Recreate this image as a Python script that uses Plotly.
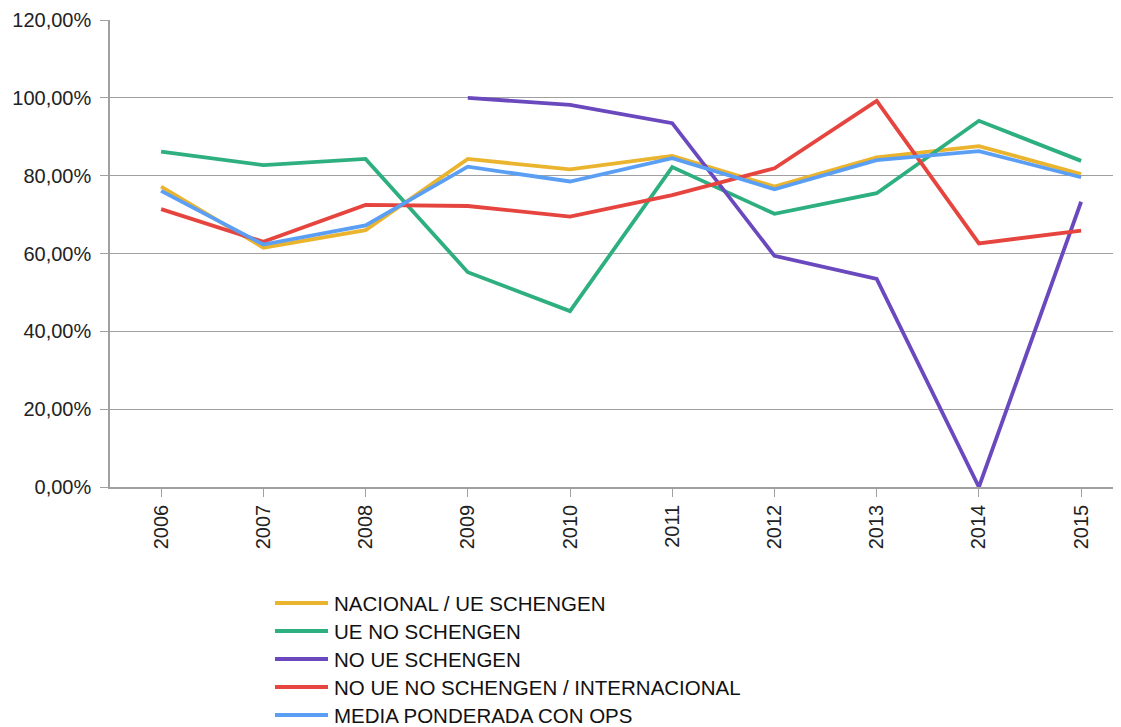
import plotly.graph_objects as go

years = ["2006", "2007", "2008", "2009", "2010", "2011", "2012", "2013", "2014", "2015"]
nacional_ue_schengen = [77.2, 61.5, 66.0, 84.3, 81.6, 85.1, 77.2, 84.7, 87.6, 80.4]
ue_no_schengen = [86.2, 82.7, 84.3, 55.2, 45.2, 82.2, 70.2, 75.5, 94.1, 83.8]
no_ue_schengen = [None, None, None, 100.0, 98.2, 93.5, 59.4, 53.5, 0.0, 73.3]
no_ue_no_schengen_int = [71.4, 63.0, 72.5, 72.2, 69.5, 75.0, 81.9, 99.2, 62.6, 65.9]
media_ponderada = [76.1, 62.3, 67.2, 82.3, 78.5, 84.5, 76.5, 84.0, 86.3, 79.6]
y_ticks = [0, 20, 40, 60, 80, 100, 120]
y_tick_labels = ["0,00%", "20,00%", "40,00%", "60,00%", "80,00%", "100,00%", "120,00%"]

series = [
    ("NACIONAL / UE SCHENGEN", nacional_ue_schengen, "#EAB42E"),
    ("UE NO SCHENGEN", ue_no_schengen, "#2DAF80"),
    ("NO UE SCHENGEN", no_ue_schengen, "#6A48BE"),
    ("NO UE NO SCHENGEN / INTERNACIONAL", no_ue_no_schengen_int, "#E6453F"),
    ("MEDIA PONDERADA CON OPS", media_ponderada, "#5B9FF5"),
]

# figure geometry (page body adds an 8px offset)
W, H = 1113, 719
L, T, PH = 102, 12, 467
B = H - T - PH
PW = W - L


def px_to_paper_x(fx):
    return (fx - L) / PW


def px_to_paper_y(fy):
    return (T + PH - fy) / PH


fig = go.Figure()
for i, (name, vals, color) in enumerate(series):
    fig.add_trace(go.Scatter(
        x=list(range(len(years))), y=vals, name=name, mode="lines",
        line=dict(color=color, width=3.8), connectgaps=False,
        showlegend=False,
    ))

# legend drawn as shapes + text (matches reference's long swatches)
leg_x0, leg_x1, leg_text_x = 267, 320, 324
leg_y0, leg_dy = 595, 28
for i, (name, vals, color) in enumerate(series):
    fy = leg_y0 + leg_dy * i
    fig.add_shape(
        type="line", xref="paper", yref="paper",
        x0=px_to_paper_x(leg_x0), x1=px_to_paper_x(leg_x1),
        y0=px_to_paper_y(fy), y1=px_to_paper_y(fy),
        line=dict(color=color, width=4),
    )
    fig.add_annotation(
        xref="paper", yref="paper", x=px_to_paper_x(leg_text_x), y=px_to_paper_y(fy),
        text=name, showarrow=False, xanchor="left", yanchor="middle",
        font=dict(size=20.5, color="#111111"),
    )

fig.update_layout(
    width=W, height=H,
    margin=dict(l=L, r=0, t=T, b=B, autoexpand=False),
    paper_bgcolor="white", plot_bgcolor="white",
    font=dict(family="Liberation Sans, Arial, sans-serif", color="#222222", size=20),
    showlegend=False,
)

fig.update_xaxes(
    tickmode="array", tickvals=list(range(len(years))), ticktext=years,
    range=[-0.5, 9.39], tickangle=-90, tickson="boundaries",
    ticks="outside", ticklen=8, tickcolor="#A0A0A0",
    showline=True, linecolor="#A0A0A0", linewidth=1.5,
    showgrid=False, zeroline=False,
    tickfont=dict(size=20, color="#222222"),
)
fig.update_yaxes(
    range=[0, 120], tickmode="array", tickvals=y_ticks, ticktext=y_tick_labels,
    ticks="outside", ticklen=8, tickcolor="#A0A0A0", ticklabelstandoff=5,
    showline=True, linecolor="#A0A0A0", linewidth=1.5,
    showgrid=True, gridcolor="#A0A0A0", gridwidth=1.2,
    zeroline=False, tickfont=dict(size=20, color="#222222"),
)

fig.write_html("out.html")
